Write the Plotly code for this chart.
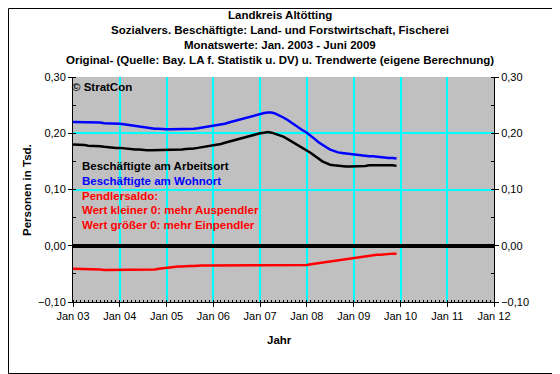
import plotly.graph_objects as go
import pandas as pd

months = pd.date_range("2003-01-01", "2009-12-01", freq="MS")

arbeitsort = [
    0.180, 0.180, 0.179, 0.179, 0.178, 0.178, 0.177, 0.177, 0.176, 0.175, 0.175, 0.174,
    0.174, 0.173, 0.172, 0.172, 0.171, 0.171, 0.170, 0.170, 0.170, 0.170, 0.170, 0.170,
    0.170, 0.170, 0.170, 0.171, 0.171, 0.172, 0.172, 0.173, 0.174, 0.175, 0.176, 0.177,
    0.178, 0.179, 0.181, 0.183, 0.185, 0.187, 0.189, 0.191, 0.193, 0.195, 0.197, 0.199,
    0.200, 0.201, 0.202, 0.201, 0.199, 0.197, 0.194, 0.190, 0.186, 0.182, 0.178, 0.174,
    0.170, 0.165, 0.160, 0.155, 0.150, 0.147, 0.144, 0.143, 0.142, 0.141, 0.141, 0.141,
    0.141, 0.141, 0.142, 0.142, 0.143, 0.143, 0.144, 0.144, 0.144, 0.143, 0.143, 0.142,
]
wohnort = [
    0.220, 0.220, 0.220, 0.220, 0.220, 0.219, 0.219, 0.219, 0.218, 0.218, 0.218, 0.217,
    0.217, 0.216, 0.215, 0.214, 0.213, 0.212, 0.211, 0.210, 0.209, 0.208, 0.208, 0.207,
    0.207, 0.207, 0.207, 0.207, 0.207, 0.207, 0.208, 0.208, 0.209, 0.210, 0.211, 0.212,
    0.213, 0.214, 0.215, 0.217, 0.219, 0.221, 0.223, 0.225, 0.227, 0.229, 0.231, 0.233,
    0.235, 0.236, 0.237, 0.237, 0.235, 0.232, 0.228, 0.224, 0.219, 0.214, 0.209, 0.205,
    0.201, 0.196, 0.190, 0.184, 0.179, 0.175, 0.171, 0.168, 0.166, 0.165, 0.164, 0.163,
    0.162, 0.161, 0.160, 0.160, 0.159, 0.159, 0.158, 0.158, 0.157, 0.156, 0.156, 0.155,
]
saldo = [
    -0.041, -0.041, -0.041, -0.041, -0.041, -0.041, -0.042, -0.042, -0.043, -0.043, -0.043, -0.043,
    -0.043, -0.043, -0.043, -0.043, -0.043, -0.043, -0.043, -0.042, -0.042, -0.042, -0.041, -0.040,
    -0.039, -0.038, -0.038, -0.037, -0.037, -0.036, -0.036, -0.036, -0.035, -0.035, -0.035, -0.035,
    -0.034, -0.034, -0.034, -0.034, -0.034, -0.034, -0.034, -0.034, -0.034, -0.035, -0.035, -0.035,
    -0.035, -0.035, -0.035, -0.035, -0.035, -0.035, -0.035, -0.035, -0.035, -0.035, -0.035, -0.034,
    -0.034, -0.033, -0.032, -0.031, -0.030, -0.029, -0.028, -0.027, -0.026, -0.025, -0.024, -0.023,
    -0.022, -0.021, -0.020, -0.019, -0.018, -0.017, -0.016, -0.016, -0.015, -0.015, -0.014, -0.014,
]

title_lines = [
    "Landkreis Altötting",
    "Sozialvers. Beschäftigte: Land- und Forstwirtschaft, Fischerei",
    "Monatswerte: Jan. 2003 - Juni 2009",
    "Original- (Quelle: Bay. LA f. Statistik u. DV) u. Trendwerte (eigene Berechnung)",
]
legend_lines = [
    ("Beschäftigte am Arbeitsort", "#000000"),
    ("Beschäftigte am Wohnort", "#0000FF"),
    ("Pendlersaldo:", "#FF0000"),
    ("Wert kleiner 0: mehr Auspendler", "#FF0000"),
    ("Wert größer 0: mehr Einpendler", "#FF0000"),
]

# the page body adds an 8px offset; positions below are page pixels
OFF = 8
W, H = 560 - OFF, 374 - OFF
PL, PR, PT, PB = 73, 494, 77, 302          # plot area in page pixels
L, T = PL - OFF, PT - OFF
R, B = W - (PR - OFF), H - (PB - OFF)
pw, ph = W - L - R, H - T - B
FONT = "Liberation Sans, Arial, sans-serif"


def px(xp):
    return (xp - PL) / pw


def py(yp):
    return (PB - yp) / ph


fig = go.Figure()
fig.add_trace(go.Scatter(x=months, y=arbeitsort, mode="lines",
                         line=dict(color="#000000", width=2.5), showlegend=False))
fig.add_trace(go.Scatter(x=months, y=wohnort, mode="lines",
                         line=dict(color="#0000FF", width=2.5), showlegend=False))
fig.add_trace(go.Scatter(x=months, y=saldo, mode="lines",
                         line=dict(color="#FF0000", width=2.5), showlegend=False))
fig.add_trace(go.Scatter(x=[months[0]], y=[0], yaxis="y2", mode="markers",
                         marker=dict(opacity=0), showlegend=False, hoverinfo="skip"))

axis_common = dict(
    showline=True, linecolor="#000000", linewidth=1, automargin=False,
    tickfont=dict(family=FONT, size=11, color="#000000"),
)
GW = 2

fig.update_layout(
    width=W, height=H,
    margin=dict(l=L, r=R, t=T, b=B, autoexpand=False),
    paper_bgcolor="#FFFFFF",
    plot_bgcolor="#C0C0C0",
    separators=",.",
    font=dict(family=FONT, size=11, color="#000000"),
    xaxis=dict(
        type="date",
        range=["2003-01-01", "2012-01-01"],
        dtick="M12", tick0="2003-01-01",
        tickformat="%b %y",
        ticks="outside", ticklen=4, tickcolor="#000000",
        showgrid=True, gridcolor="#00FFFF", gridwidth=GW,
        minor=dict(dtick="M1", ticks="inside", ticklen=2, tickcolor="#000000", showgrid=False),
        zeroline=False,
        **axis_common,
    ),
    yaxis=dict(
        range=[-0.10, 0.30], dtick=0.10, tickformat=".2f",
        ticks="outside", ticklen=4, tickcolor="#000000",
        showgrid=True, gridcolor="#00FFFF", gridwidth=GW,
        minor=dict(dtick=0.05, ticks="inside", ticklen=3, tickcolor="#000000", showgrid=False),
        zeroline=True, zerolinecolor="#000000", zerolinewidth=4,
        **axis_common,
    ),
    yaxis2=dict(
        overlaying="y", side="right",
        range=[-0.10, 0.30], dtick=0.10, tickformat=".2f",
        ticks="outside", ticklen=4, tickcolor="#000000",
        minor=dict(dtick=0.05, ticks="inside", ticklen=3, tickcolor="#000000", showgrid=False),
        showgrid=False, zeroline=False,
        **axis_common,
    ),
)

TF = dict(family=FONT, size=11.5)

# title lines
for i, line in enumerate(title_lines):
    fig.add_annotation(
        text=f"<b>{line}</b>", xref="paper", yref="paper",
        x=px(280), y=py(15 + 15 * i),
        showarrow=False, xanchor="center", yanchor="middle",
        font=dict(**TF, color="#000000"),
    )

# axis titles
fig.add_annotation(
    text="<b>Personen in Tsd.</b>", xref="paper", yref="paper",
    x=px(27), y=py(190), textangle=-90,
    showarrow=False, xanchor="center", yanchor="middle",
    font=dict(**TF, color="#000000"),
)
fig.add_annotation(
    text="<b>Jahr</b>", xref="paper", yref="paper",
    x=px(279), y=py(340),
    showarrow=False, xanchor="center", yanchor="middle",
    font=dict(**TF, color="#000000"),
)

# copyright
fig.add_annotation(
    text="<b>© StratCon</b>", xref="paper", yref="paper",
    x=px(70), y=py(87),
    showarrow=False, xanchor="left", yanchor="middle",
    font=dict(**TF, color="#000000"),
)

# legend-like text
for i, (txt, col) in enumerate(legend_lines):
    fig.add_annotation(
        text=f"<b>{txt}</b>", xref="paper", yref="paper",
        x=px(80), y=py(166 + 14.8 * i),
        showarrow=False, xanchor="left", yanchor="middle",
        font=dict(**TF, color=col),
    )

# outer border
fig.add_shape(
    type="rect", xref="paper", yref="paper",
    x0=px(OFF + 0.5), x1=px(OFF + W - 0.5),
    y0=py(OFF + H - 0.5), y1=py(OFF + 0.5),
    line=dict(color="#000000", width=1), fillcolor="rgba(0,0,0,0)", layer="above",
)

fig.write_html("out.html")
